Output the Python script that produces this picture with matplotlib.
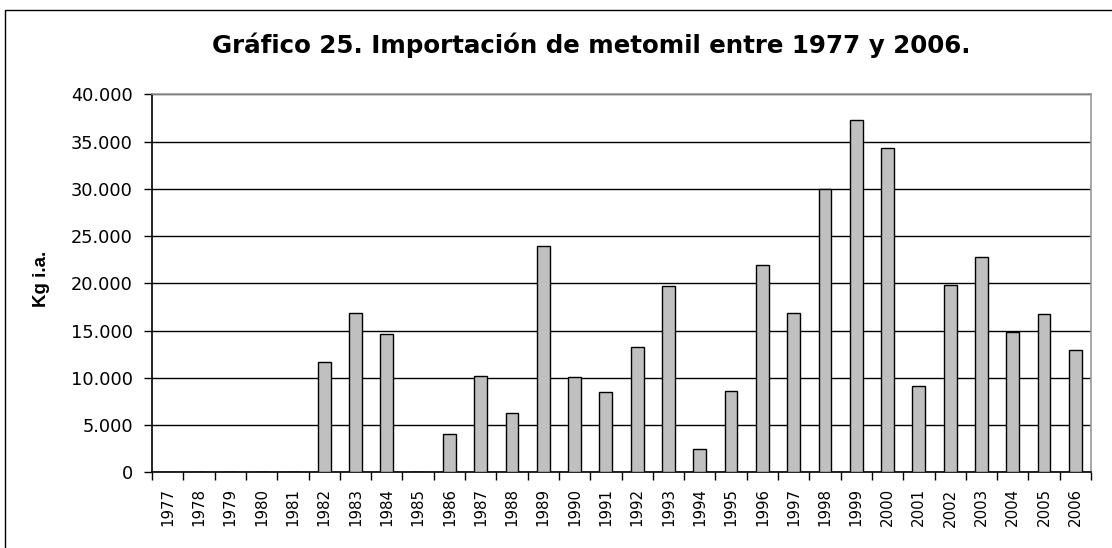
import matplotlib
matplotlib.use("Agg")
import matplotlib.pyplot as plt
from matplotlib.patches import Rectangle
import numpy as np

years = [str(y) for y in range(1977, 2007)]
values = [0, 0, 0, 0, 0, 11700, 16900, 14600, 0, 4050,
          10200, 6300, 23900, 10100, 8450, 13300, 19700, 2450, 8650, 21900,
          16900, 30000, 37250, 34300, 9100, 19850, 22800, 14800, 16750, 12900]
yticks = [0, 5000, 10000, 15000, 20000, 25000, 30000, 35000, 40000]
ytick_labels = ["0", "5.000", "10.000", "15.000", "20.000", "25.000", "30.000", "35.000", "40.000"]
title = "Gráfico 25. Importación de metomil entre 1977 y 2006."
ylabel = "Kg i.a."

plt.rcParams['font.family'] = ['DejaVu Sans']

W, H = 1112, 548
fig = plt.figure(figsize=(W / 100, H / 100), dpi=100)
fig.patch.set_facecolor("white")

# outer chart border
fig.add_artist(Rectangle((4.5 / W, -0.05), 1.2, 1 - 10.5 / H + 0.05,
                         transform=fig.transFigure, fill=False,
                         edgecolor="black", linewidth=1.0))

left, right = 152 / W, 1091 / W
bottom, top = (H - 472.3) / H, (H - 94.3) / H
ax = fig.add_axes([left, bottom, right - left, top - bottom])

x = np.arange(len(years))
ax.bar(x, values, width=0.41, color="#C0C0C0", edgecolor="black", linewidth=1.0, zorder=3)

ax.set_xlim(-0.5, len(years) - 0.5)
ax.set_ylim(0, 40000)
ax.set_yticks(yticks)
ax.set_yticklabels(ytick_labels, fontsize=12.8)
ax.yaxis.grid(True, color="black", linewidth=1.0, zorder=1)
ax.set_axisbelow(True)

ax.set_xticks(np.arange(-0.5, len(years), 1.0))
ax.set_xticklabels([])
ax.set_xticks(x, minor=True)
ax.set_xticklabels(years, minor=True, rotation=90, fontsize=10.8)
ax.tick_params(axis="x", which="major", direction="out", length=5.5, width=1, color="black")
ax.tick_params(axis="x", which="minor", length=0, pad=11.5)
ax.tick_params(axis="y", direction="out", length=5.8, width=1, color="black", pad=8)

for s in ["left", "bottom"]:
    ax.spines[s].set_color("black")
    ax.spines[s].set_linewidth(1.2)
for s in ["top", "right"]:
    ax.spines[s].set_color("#999999")
    ax.spines[s].set_linewidth(1.2)

t_title = fig.text(591 / W, 1 - 53 / H, title, ha="center", va="baseline",
                   fontsize=16, fontweight="bold")
fig.text(42 / W, 1 - 279 / H, ylabel, ha="center", va="center",
         rotation=90, fontsize=13.5, fontweight="bold",
         family=['Liberation Sans', 'DejaVu Sans'])

# fit the title width to the reference
fig.canvas.draw()
r = fig.canvas.get_renderer()
bb = t_title.get_window_extent(r)
t_title.set_fontsize(t_title.get_fontsize() * 762 / bb.width)

fig.savefig("out.png", dpi=100, facecolor="white")
